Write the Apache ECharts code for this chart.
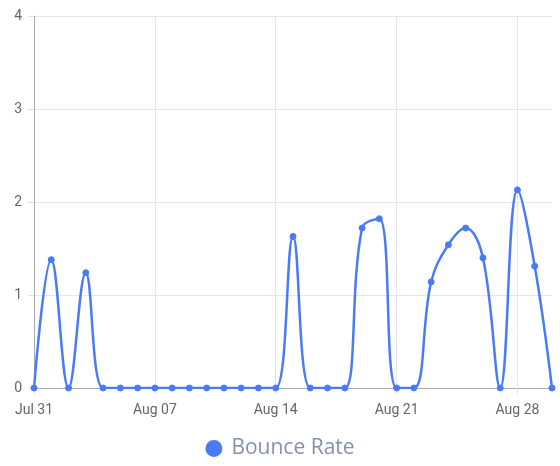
<!DOCTYPE html>
<html>
<head>
<meta charset="utf-8">
<script src="https://cdn.jsdelivr.net/npm/echarts@6/dist/echarts.min.js"></script>
<style>html,body{margin:0;padding:0;background:#fff;}#c{width:560px;height:466px;}</style>
</head>
<body>
<div id="c"></div>
<script>
const categories = ["Jul 31","Aug 01","Aug 02","Aug 03","Aug 04","Aug 05","Aug 06","Aug 07","Aug 08","Aug 09","Aug 10","Aug 11","Aug 12","Aug 13","Aug 14","Aug 15","Aug 16","Aug 17","Aug 18","Aug 19","Aug 20","Aug 21","Aug 22","Aug 23","Aug 24","Aug 25","Aug 26","Aug 27","Aug 28","Aug 29","Aug 30"];
const bounceRate = [0,1.38,0,1.24,0,0,0,0,0,0,0,0,0,0,0,1.63,0,0,0,1.72,1.82,0,0,1.14,1.54,1.72,1.40,0,2.13,1.31,0];
const yTicks = [0,1,2,3,4];

const chart = echarts.init(document.getElementById('c'), null, {renderer:'canvas'});
chart.setOption({
  animation:false,
  grid:{left:34,right:8,top:16,bottom:78,containLabel:false},
  legend:{
    data:['Bounce Rate'],top:433,left:'center',
    icon:'circle',itemWidth:15,itemHeight:15,itemGap:10,
    textStyle:{color:'#8490ae',fontSize:21,fontFamily:'"Open Sans", sans-serif',padding:[0,0,0,5]}
  },
  xAxis:{
    type:'category',data:categories,boundaryGap:false,
    axisLine:{lineStyle:{color:'#aaaaaa',width:1}},
    axisTick:{show:true,interval:6,length:6,lineStyle:{color:'#e0e0e0'}},
    axisLabel:{interval:6,color:'#666',fontSize:14,fontFamily:'Roboto, sans-serif',margin:15},
    splitLine:{show:true,interval:6,lineStyle:{color:'#e6e6e6'}}
  },
  yAxis:{
    type:'value',min:yTicks[0],max:yTicks[yTicks.length-1],interval:1,
    axisLine:{show:true,lineStyle:{color:'#aaaaaa'}},
    axisTick:{show:true,length:6,lineStyle:{color:'#e0e0e0'}},
    axisLabel:{color:'#666',fontSize:14,fontFamily:'Roboto, sans-serif',margin:12},
    splitLine:{lineStyle:{color:'#e6e6e6'}}
  },
  series:[{
    name:'Bounce Rate',type:'line',data:bounceRate,smooth:0.4,
    symbol:'circle',symbolSize:6,
    lineStyle:{color:'#4a7bf7',width:2.5},
    itemStyle:{color:'#4a7bf7',borderColor:'#4a7bf7',borderWidth:1}
  }]
});
</script>
</body>
</html>
